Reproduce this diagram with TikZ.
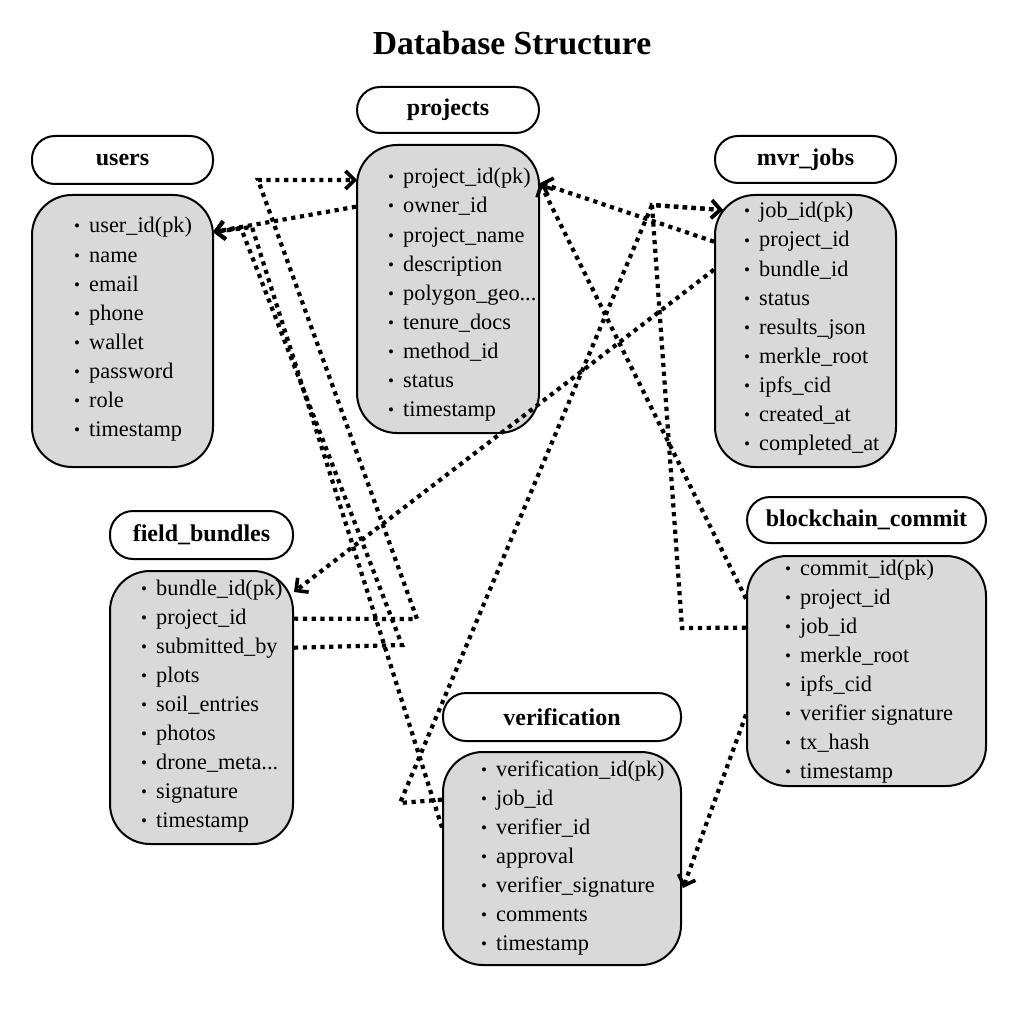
\documentclass[tikz,border=0pt]{standalone}
\usepackage{fontspec}
\setmainfont{Liberation Serif}
\usetikzlibrary{arrows.meta,calc}
\definecolor{boxgray}{HTML}{D9D9D9}
\newcommand\tdots{...}
\newcommand\rowbul{\makebox[14pt][l]{\hspace{-1pt}\fontsize{17}{20}\selectfont\raisebox{1pt}{\textbullet}}}
\begin{document}
\begin{tikzpicture}[x=1pt,y=-1pt,
  hdr/.style={draw, line width=2pt, rounded corners=23pt, inner sep=0pt, fill=white,
    font=\bfseries\fontsize{24}{28}\selectfont},
  bdy/.style={draw, line width=2pt, rounded corners=40pt, inner sep=0pt, fill=boxgray},
  row/.style={anchor=base west, inner sep=0pt, font=\fontsize{22.3}{26}\selectfont},
  link/.style={line width=4.2pt, dash pattern=on 4.2pt off 4.6pt},
  >={Straight Barb[length=9pt,width=18pt,line width=3.6pt]}]
\useasboundingbox (0,0) rectangle (1024,1024);
\node[font=\bfseries\fontsize{33.6}{38}\selectfont] (title) at (512,43) {Database Structure};

% users
\node[hdr, minimum width=181pt, minimum height=48pt] (uh) at (122.5,160) {users};
\node[bdy, minimum width=181pt, minimum height=272pt] (ub) at (122.5,331) {};
\foreach \t [count=\i] in {user\_id(pk),name,email,phone,wallet,password,role,timestamp}
  \node[row] (u\i) at (75,{233+29*(\i-1)}) {\rowbul\t};

% projects
\node[hdr, minimum width=182pt, minimum height=46pt] (ph) at (448,110) {projects};
\node[bdy, minimum width=182pt, minimum height=288pt] (pb) at (448,289) {};
\foreach \t [count=\i] in {project\_id(pk),owner\_id,project\_name,description,polygon\_geo\tdots,tenure\_docs,method\_id,status,timestamp}
  \node[row] (p\i) at (389,{184+29*(\i-1)}) {\rowbul\t};

% mvr_jobs
\node[hdr, minimum width=181pt, minimum height=47pt] (mh) at (805.5,159.5) {mvr\_jobs};
\node[bdy, minimum width=181pt, minimum height=272pt] (mb) at (805.5,331) {};
\foreach \t [count=\i] in {job\_id(pk),project\_id,bundle\_id,status,results\_json,merkle\_root,ipfs\_cid,created\_at,completed\_at}
  \node[row] (m\i) at (745,{218+29*(\i-1)}) {\rowbul\t};

% field_bundles
\node[hdr, minimum width=183pt, minimum height=48pt] (fh) at (201.5,535) {field\_bundles};
\node[bdy, minimum width=183pt, minimum height=273pt] (fb) at (201.5,707.5) {};
\foreach \t [count=\i] in {bundle\_id(pk),project\_id,submitted\_by,plots,soil\_entries,photos,drone\_meta\tdots,signature,timestamp}
  \node[row] (f\i) at (142,{595+29*(\i-1)}) {\rowbul\t};

% blockchain_commit
\node[hdr, minimum width=239pt, minimum height=46pt] (bh) at (866.5,520) {blockchain\_commit};
\node[bdy, minimum width=239pt, minimum height=230pt] (bb) at (866.5,671) {};
\foreach \t [count=\i] in {commit\_id(pk),project\_id,job\_id,merkle\_root,ipfs\_cid,verifier signature,tx\_hash,timestamp}
  \node[row] (b\i) at (786,{575+29*(\i-1)}) {\rowbul\t};

% verification
\node[hdr, minimum width=238pt, minimum height=48pt] (vh) at (562,717) {verification};
\node[bdy, minimum width=238pt, minimum height=213pt] (vb) at (562,858.5) {};
\foreach \t [count=\i] in {verification\_id(pk),job\_id,verifier\_id,approval,verifier\_signature,comments,timestamp}
  \node[row] (v\i) at (482,{776+29*(\i-1)}) {\rowbul\t};

% connector ends and bends
\coordinate (uA) at (213,232);
\coordinate (pA) at (357,180);
\coordinate (pB) at (540,183);
\coordinate (mA) at (723,210);
\coordinate (fA) at (294,592);
\coordinate (vA) at (683,888);
\coordinate (k1) at (417,619);
\coordinate (k2) at (258,180);
\coordinate (k3) at (402,645);
\coordinate (k4) at (241,228);
\coordinate (k5) at (252,227);
\coordinate (k6) at (400,803);
\coordinate (k7) at (652,205);
\coordinate (k8) at (682,628);

\draw[link,->] (pb.west |- p2.west) -- (uA);
\draw[link,->] (fb.east |- f2.west) -- (k1) -- (k2) -- (pA);
\draw[link,->] (fb.east |- f3.west) -- (k3) -- (k4) -- (uA);
\draw[link,->] (vb.west |- v3.west) -- (k5) -- (uA);
\draw[link,->] (vb.west |- v2.west) -- (k6) -- (k7) -- (mA);
\draw[link,->] (bb.west |- b3.west) -- (k8) -- (k7) -- (mA);
\draw[link,->] (mb.west |- m2.west) -- (pB);
\draw[link,->] (bb.west |- b2.west) -- (pB);
\draw[link,->] (mb.west |- m3.west) -- (fA);
\draw[link,->] (bb.west |- b6.west) -- (vA);
\end{tikzpicture}
\end{document}
